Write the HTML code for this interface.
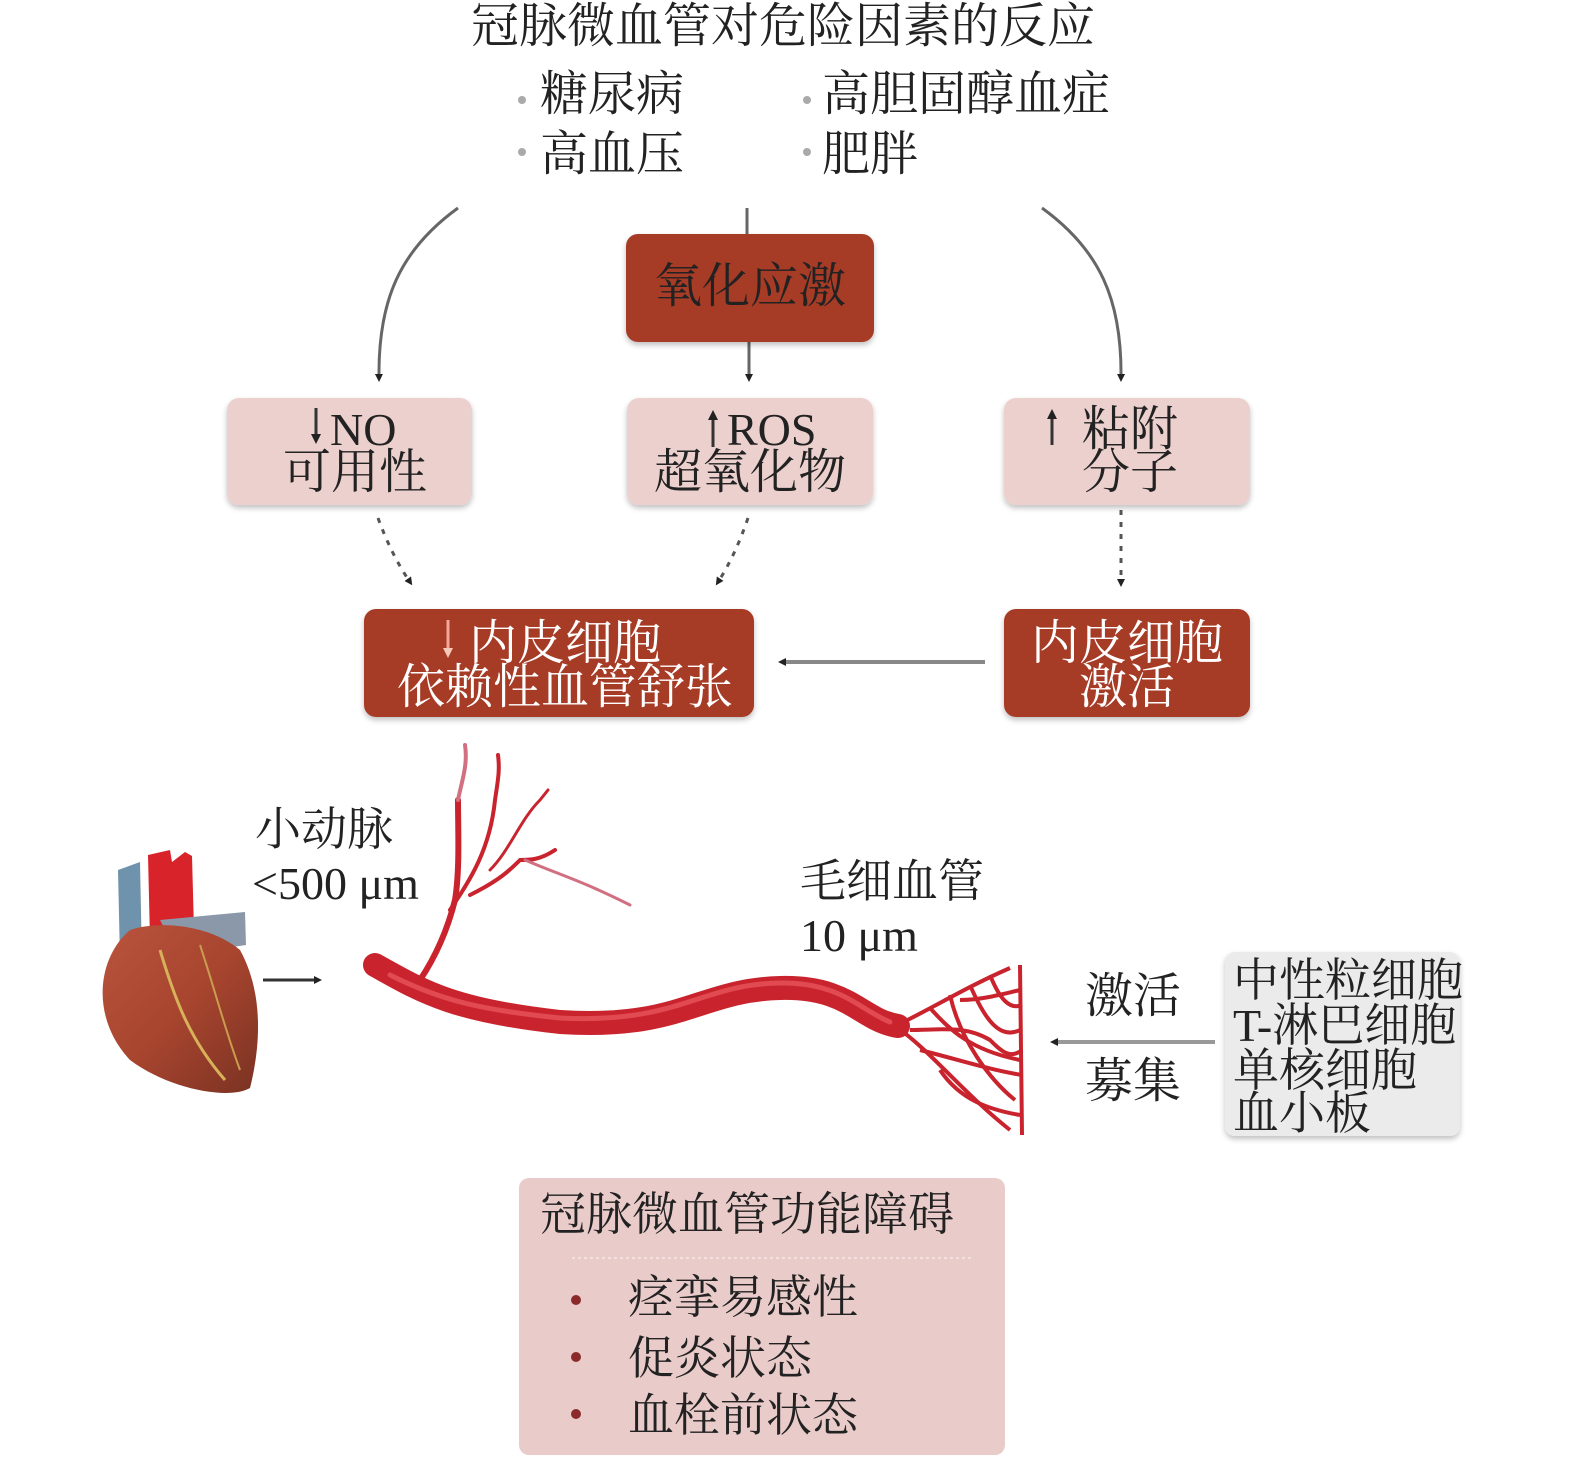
<!DOCTYPE html>
<html><head><meta charset="utf-8"><style>
html,body{margin:0;padding:0;background:#fff}
svg{display:block}
text{font-family:"Liberation Serif","Noto Serif CJK SC",serif;}
</style></head><body>
<svg width="1575" height="1461" viewBox="0 0 1575 1461" xmlns="http://www.w3.org/2000/svg">
<defs>
<marker id="ah" markerWidth="8" markerHeight="8" refX="4" refY="4" orient="auto" markerUnits="userSpaceOnUse"><path d="M0,0 L8,4 L0,8 z" fill="#222"/></marker>
<filter id="sh" x="-10%" y="-10%" width="120%" height="130%"><feGaussianBlur in="SourceAlpha" stdDeviation="3"/><feOffset dy="3"/><feComponentTransfer><feFuncA type="linear" slope="0.25"/></feComponentTransfer><feMerge><feMergeNode/><feMergeNode in="SourceGraphic"/></feMerge></filter>
<linearGradient id="hg" x1="0" y1="0" x2="1" y2="1"><stop offset="0" stop-color="#b9543e"/><stop offset="0.5" stop-color="#a8452f"/><stop offset="1" stop-color="#7a3222"/></linearGradient>
</defs>

<!-- Title -->
<text x="783" y="42" font-size="48" text-anchor="middle" fill="#222">冠脉微血管对危险因素的反应</text>
<circle cx="522" cy="100" r="4" fill="#aaa"/><circle cx="522" cy="152" r="4" fill="#aaa"/>
<circle cx="807" cy="100" r="4" fill="#aaa"/><circle cx="807" cy="152" r="4" fill="#aaa"/>
<text x="540" y="110" font-size="48" fill="#222">糖尿病</text>
<text x="540" y="170" font-size="48" fill="#222">高血压</text>
<text x="822" y="110" font-size="48" fill="#222">高胆固醇血症</text>
<text x="822" y="170" font-size="48" fill="#222">肥胖</text>

<!-- top connectors -->
<path d="M458,208 C400,250 378,300 379,378" fill="none" stroke="#666" stroke-width="3" marker-end="url(#ah)"/>
<path d="M747,208 L747,236" stroke="#666" stroke-width="3"/>
<path d="M1042,208 C1100,250 1122,300 1121,378" fill="none" stroke="#666" stroke-width="3" marker-end="url(#ah)"/>
<path d="M749,342 L749,378" stroke="#666" stroke-width="3" marker-end="url(#ah)"/>

<!-- oxidative stress box -->
<rect x="626" y="234" width="248" height="108" rx="12" fill="#a63b28" filter="url(#sh)"/>
<text x="750" y="302" font-size="48" text-anchor="middle" fill="#222">氧化应激</text>

<!-- pink boxes -->
<rect x="227" y="398" width="245" height="107" rx="12" fill="#ecd0ce" filter="url(#sh)"/>
<rect x="627" y="398" width="246" height="107" rx="12" fill="#ecd0ce" filter="url(#sh)"/>
<rect x="1004" y="398" width="246" height="107" rx="12" fill="#ecd0ce" filter="url(#sh)"/>
<path d="M316,408 L316,438" stroke="#333" stroke-width="3"/><path d="M311,434 L316,444 L321,434z" fill="#222"/>
<text x="330" y="445" font-size="46" fill="#222">NO</text>
<text x="355" y="488" font-size="48" text-anchor="middle" fill="#222">可用性</text>
<path d="M713,418 L713,447" stroke="#333" stroke-width="3"/><path d="M708,420 L713,410 L718,420z" fill="#222"/>
<text x="727" y="445" font-size="46" fill="#222">ROS</text>
<text x="750" y="488" font-size="48" text-anchor="middle" fill="#222">超氧化物</text>
<path d="M1052,418 L1052,445" stroke="#333" stroke-width="3"/><path d="M1047,419 L1052,409 L1057,419z" fill="#222"/>
<text x="1082" y="445" font-size="48" fill="#222">粘附</text>
<text x="1082" y="488" font-size="48" fill="#222">分子</text>

<!-- dotted connectors -->
<path d="M378,518 Q392,556 410,582" fill="none" stroke="#555" stroke-width="3" stroke-dasharray="5,7" marker-end="url(#ah)"/>
<path d="M748,518 Q735,556 718,582" fill="none" stroke="#555" stroke-width="3" stroke-dasharray="5,7" marker-end="url(#ah)"/>
<path d="M1121,510 L1121,583" stroke="#555" stroke-width="3" stroke-dasharray="5,7" marker-end="url(#ah)"/>

<!-- dark boxes -->
<rect x="364" y="609" width="390" height="108" rx="12" fill="#a63b28" filter="url(#sh)"/>
<rect x="1004" y="609" width="246" height="108" rx="12" fill="#a63b28" filter="url(#sh)"/>
<path d="M448,620 L448,650" stroke="#f2a99a" stroke-width="3"/><path d="M443,648 L448,658 L453,648z" fill="#f6c8b8"/>
<text x="565" y="659" font-size="48" text-anchor="middle" fill="#fff">内皮细胞</text>
<text x="565" y="703" font-size="48" text-anchor="middle" fill="#fff">依赖性血管舒张</text>
<text x="1127" y="659" font-size="48" text-anchor="middle" fill="#fff">内皮细胞</text>
<text x="1127" y="703" font-size="48" text-anchor="middle" fill="#fff">激活</text>
<path d="M985,662 L782,662" stroke="#888" stroke-width="4" marker-end="url(#ah)"/>

<!-- heart -->
<g>
<path d="M118,870 L140,862 L142,960 L120,960z" fill="#6f93ac"/>
<path d="M148,855 L170,850 L172,862 L185,852 L192,856 L194,930 L150,940z" fill="#d8232a"/>
<path d="M160,920 L245,912 L246,945 L178,955z" fill="#8a98aa"/>
<path d="M130,930 C95,960 92,1020 130,1060 C170,1090 230,1100 250,1088 C262,1040 262,990 240,950 C210,925 160,920 130,930z" fill="url(#hg)"/>
<path d="M160,950 C175,1000 190,1040 225,1080" fill="none" stroke="#d8b25a" stroke-width="3"/>
<path d="M200,945 C215,990 225,1030 240,1070" fill="none" stroke="#c99d4e" stroke-width="2"/>
</g>
<path d="M263,980 L318,980" stroke="#333" stroke-width="3" marker-end="url(#ah)"/>

<!-- vessel -->
<g fill="none" stroke-linecap="round">
<path d="M375,965 C420,990 450,1010 560,1022 C680,1030 700,990 780,988 C850,986 860,1020 898,1026" stroke="#c9242e" stroke-width="24"/>
<path d="M390,975 C440,1000 480,1010 560,1018 C680,1024 700,984 780,983 C840,982 860,1010 890,1022" stroke="#e04a50" stroke-width="5"/>
<path d="M420,980 C440,950 450,920 455,900 C460,870 458,830 458,800" stroke="#c9242e" stroke-width="6"/>
<path d="M458,800 C462,780 468,765 465,745" stroke="#d07080" stroke-width="4"/>
<path d="M450,910 C470,880 490,850 495,800 C498,780 500,770 498,755" stroke="#c9242e" stroke-width="4"/>
<path d="M470,895 C500,880 510,870 520,860 C530,860 540,860 555,850" stroke="#c9242e" stroke-width="4"/>
<path d="M490,870 C510,850 520,820 540,800 L548,790" stroke="#c9242e" stroke-width="3"/>
<path d="M525,860 C560,875 580,880 630,905" stroke="#d07080" stroke-width="3"/>
</g>
<g fill="none" stroke="#c9242e" stroke-width="4">
<path d="M895,1026 C930,1010 960,990 1010,968"/>
<path d="M895,1026 C930,1050 960,1090 1010,1130"/>
<path d="M930,1008 C950,1030 970,1050 1020,1060"/>
<path d="M950,995 C960,1040 990,1080 1015,1100"/>
<path d="M970,985 C985,1020 1000,1040 1020,1030"/>
<path d="M920,1050 C960,1060 990,1070 1022,1075"/>
<path d="M990,975 C1000,1000 1010,1010 1022,1005"/>
<path d="M1020,965 L1022,1135"/>
<path d="M940,1070 C960,1100 990,1110 1020,1115"/>
<path d="M960,1000 C980,1000 1000,995 1020,990"/>
<path d="M910,1030 C940,1030 965,1025 990,1040 C1000,1050 1010,1060 1022,1050"/>
</g>

<text x="255" y="845" font-size="46" fill="#222">小动脉</text>
<text x="252" y="899" font-size="46" fill="#222">&lt;500 μm</text>
<text x="800" y="897" font-size="46" fill="#222">毛细血管</text>
<text x="800" y="951" font-size="46" fill="#222">10 μm</text>

<text x="1085" y="1012" font-size="48" fill="#222">激活</text>
<text x="1085" y="1097" font-size="48" fill="#222">募集</text>
<path d="M1215,1042 L1054,1042" stroke="#999" stroke-width="4" marker-end="url(#ah)"/>

<rect x="1225" y="952" width="235" height="184" rx="10" fill="#ebebeb" filter="url(#sh)"/>
<text x="1233" y="996" font-size="46" fill="#222">中性粒细胞</text>
<text x="1233" y="1041" font-size="46" fill="#222">T-淋巴细胞</text>
<text x="1233" y="1086" font-size="46" fill="#222">单核细胞</text>
<text x="1233" y="1129" font-size="46" fill="#222">血小板</text>

<!-- bottom box -->
<rect x="519" y="1178" width="486" height="277" rx="10" fill="#e9cbca"/>
<text x="540" y="1230" font-size="46" fill="#222">冠脉微血管功能障碍</text>
<line x1="572" y1="1258" x2="972" y2="1258" stroke="#f4e0df" stroke-width="2" stroke-dasharray="3,3"/>
<circle cx="576" cy="1300" r="5" fill="#8a2a2a"/>
<circle cx="576" cy="1357" r="5" fill="#8a2a2a"/>
<circle cx="576" cy="1414" r="5" fill="#8a2a2a"/>
<text x="628" y="1313" font-size="46" fill="#222">痉挛易感性</text>
<text x="628" y="1374" font-size="46" fill="#222">促炎状态</text>
<text x="628" y="1431" font-size="46" fill="#222">血栓前状态</text>
</svg>
</body></html>
